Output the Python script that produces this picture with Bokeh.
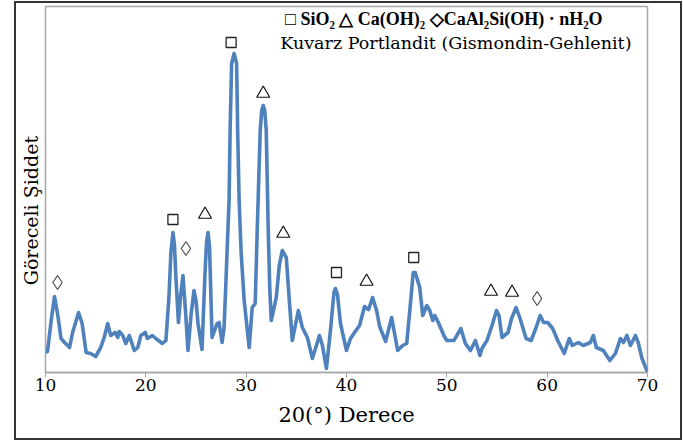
from bokeh.plotting import figure
from bokeh.layouts import column
from bokeh.models import Range1d, FixedTicker, Label
from bokeh.embed import file_html
from bokeh.resources import INLINE

# 2-theta (degrees) and relative intensity (arbitrary units)
two_theta = [10.0, 10.2, 10.57, 10.9, 11.2, 11.55, 11.9, 12.4, 12.7, 13.3, 13.65, 14.05, 14.5, 15.0,
             15.5, 15.85, 16.2, 16.5, 16.95, 17.2, 17.35, 17.7, 18.0, 18.35, 18.85, 19.2, 19.5, 19.95,
             20.15, 20.65, 21.0, 21.65, 22.0, 22.3, 22.5, 22.7, 22.85, 23.0, 23.25, 23.45, 23.7, 23.95,
             24.2, 24.5, 24.8, 25.0, 25.2, 25.6, 25.9, 26.05, 26.2, 26.35, 26.6, 27.1, 27.3, 27.6,
             27.8, 28.0, 28.15, 28.3, 28.4, 28.55, 28.8, 29.05, 29.15, 29.3, 29.5, 29.8, 30.3, 30.6,
             30.9, 31.1, 31.4, 31.55, 31.7, 31.85, 32.0, 32.2, 32.35, 32.5, 33.0, 33.3, 33.6, 34.0,
             34.3, 34.6, 35.0, 35.2, 35.6, 36.1, 36.6, 37.0, 37.3, 37.6, 38.0, 38.4, 38.75, 38.9,
             39.1, 39.4, 40.0, 40.4, 40.8, 41.3, 41.8, 42.2, 42.6, 43.0, 43.3, 43.9, 44.5, 45.1,
             45.6, 46.0, 46.4, 46.65, 46.85, 47.3, 47.6, 48.0, 48.3, 48.6, 48.8, 49.2, 49.7, 50.0,
             50.7, 51.0, 51.4, 51.85, 52.35, 52.85, 53.3, 53.5, 54.0, 54.5, 54.95, 55.2, 55.5, 56.1,
             56.45, 56.9, 57.3, 57.9, 58.4, 58.9, 59.3, 59.65, 60.05, 60.55, 61.05, 61.7, 62.2, 62.5,
             63.1, 63.6, 64.3, 64.6, 64.9, 65.6, 66.25, 66.8, 67.3, 67.6, 67.95, 68.3, 68.8, 69.1,
             69.45, 69.9, 70.0]
intensity = [20, 21, 52, 76, 59, 34, 30, 25, 40, 60, 49, 20, 19, 16,
             25, 35, 49, 37, 40, 35, 41, 37, 29, 37, 22, 25, 37, 40,
             34, 37, 34, 29, 32, 75, 120, 140, 128, 95, 50, 75, 97, 62,
             22, 57, 82, 72, 49, 23, 100, 130, 140, 125, 35, 49, 50, 30,
             45, 95, 135, 172, 242, 309, 319, 309, 242, 172, 120, 72, 25, 65,
             69, 142, 242, 262, 267, 262, 242, 142, 85, 52, 75, 107, 122, 115,
             72, 32, 52, 62, 45, 35, 14, 27, 37, 27, 4, 42, 80, 84,
             78, 49, 22, 34, 40, 47, 66, 63, 75, 62, 46, 31, 55, 22,
             27, 29, 72, 100, 100, 85, 57, 67, 62, 52, 57, 49, 37, 32,
             32, 37, 44, 29, 22, 32, 17, 24, 32, 47, 62, 57, 35, 40,
             54, 65, 54, 34, 32, 45, 57, 50, 50, 44, 32, 19, 34, 27,
             30, 27, 30, 37, 25, 22, 12, 19, 34, 30, 37, 27, 37, 29,
             14, 3, 0]

# phase markers
quartz_x = [22.7, 28.5, 39.0, 46.7]
quartz_y = [153, 330, 100, 115]
portlandite_x = [25.9, 31.7, 33.7, 42.0, 54.4, 56.5]
portlandite_y = [158, 279, 139, 91, 81, 80]
gismondine_x = [11.2, 24.0, 59.0]
gismondine_y = [90, 124, 74]

x_ticks = [10, 20, 30, 40, 50, 60, 70]

p = figure(width=664, height=435, output_backend="svg", toolbar_location=None,
           x_range=Range1d(10, 70), y_range=Range1d(0, 366),
           min_border_left=29, min_border_right=33, min_border_top=3, min_border_bottom=66)
p.background_fill_color = "white"
p.border_fill_color = "white"
p.outline_line_color = "#a6a6a6"
p.outline_line_width = 1.5
p.xgrid.visible = False
p.ygrid.visible = False

p.line(two_theta, intensity, line_color="#4F81BD", line_width=3.6, line_join="round")

p.scatter(quartz_x, quartz_y, marker="square", size=10, fill_color=None,
          line_color="#222222", line_width=1.3)
p.scatter(portlandite_x, portlandite_y, marker="triangle", size=13, fill_color=None,
          line_color="#111111", line_width=1.2)
p.scatter(gismondine_x, gismondine_y, marker="diamond", size=14, fill_color=None,
          line_color="#444444", line_width=1.1)

xa = p.xaxis[0]
xa.ticker = FixedTicker(ticks=x_ticks)
xa.axis_line_color = "#a6a6a6"
xa.axis_line_width = 1.5
xa.major_tick_line_color = "#a6a6a6"
xa.major_tick_in = 0
xa.major_tick_out = 5
xa.minor_tick_line_color = None
xa.major_label_text_font = "DejaVu Serif"
xa.major_label_text_font_size = "17px"
xa.major_label_text_color = "black"
xa.major_label_standoff = 1
xa.axis_label = "20(°) Derece"
xa.axis_label_text_font = "DejaVu Serif"
xa.axis_label_text_font_size = "21px"
xa.axis_label_text_font_style = "normal"
xa.axis_label_text_color = "black"
xa.axis_label_standoff = 9

ya = p.yaxis[0]
ya.ticker = FixedTicker(ticks=[])
ya.axis_line_color = "#a6a6a6"
ya.major_tick_line_color = None
ya.minor_tick_line_color = None
ya.major_label_text_font_size = "0px"
# trailing no-break spaces move the centred label down, as in the original
ya.axis_label = "Göreceli Şiddet" + "\u00a0" * 7
ya.axis_label_text_font = "DejaVu Serif"
ya.axis_label_text_font_size = "19px"
ya.axis_label_text_font_style = "normal"
ya.axis_label_text_color = "black"
ya.axis_label_standoff = 4

p.add_layout(Label(x=49.7, y=354, text="□ SiO₂ △ Ca(OH)₂ ◇CaAl₂Si(OH) · nH₂O",
                   text_font="Liberation Serif", text_font_style="bold", text_font_size="18px",
                   text_align="center", text_baseline="middle", text_color="black"))
p.add_layout(Label(x=50.9, y=330, text="Kuvarz Portlandit (Gismondin-Gehlenit)",
                   text_font="DejaVu Serif", text_font_size="17.5px",
                   text_align="center", text_baseline="middle", text_color="black"))

layout = column(p, margin=(1, 0, 0, 14), styles={"border": "2px solid #333333"})

open("out.html", "w").write(file_html(layout, INLINE))
